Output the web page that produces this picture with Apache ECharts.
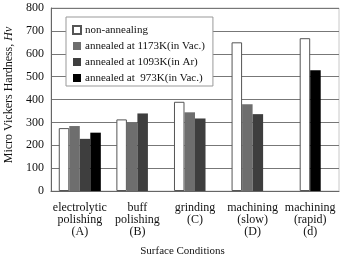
<!DOCTYPE html>
<html>
<head>
<meta charset="utf-8">
<script src="https://cdn.jsdelivr.net/npm/echarts@6/dist/echarts.min.js"></script>
<style>
  html, body { margin: 0; padding: 0; background: #fff; }
  #chart { width: 345px; height: 256px; }
</style>
</head>
<body>
<div id="chart"></div>
<script>
// surface conditions
const categories = [
  'electrolytic\npolishing\n(A)',
  'buff\npolishing\n(B)',
  'grinding\n(C)',
  'machining\n(slow)\n(D)',
  'machining\n(rapid)\n(d)'
]
// hardness Hv
const nonAnnealing = [275, 313, 390, 650, 668]
const annealed1173 = [284, 300, 344, 379, null]
const annealed1093 = [228, 339, 317, 336, null]
const annealed973 = [255, null, null, null, 528]
const yTicks = [0, 100, 200, 300, 400, 500, 600, 700, 800]

const names = [
  'non-annealing',
  'annealed at 1173K(in Vac.)',
  'annealed at 1093K(in Ar)',
  'annealed at  973K(in Vac.)'
]
const serif = 'Liberation Serif'
const last = categories.length - 1
// the last group only has two bars, drawn side by side in the middle slots
const head = arr => arr.map((v, i) => (i === last ? null : v))
const tail = arr => arr.map((v, i) => (i === last ? v : null))

const styles = [
  { color: '#fff', borderColor: '#555', borderWidth: 1 },
  { color: '#6e6e6e' },
  { color: '#3e3e3e' },
  { color: '#000' }
]

function bar(name, stack, data, style) {
  return {
    name: name,
    type: 'bar',
    stack: stack,
    data: data,
    barGap: '0%',
    barCategoryGap: '27%',
    itemStyle: style,
    emphasis: { disabled: true }
  }
}

const chart = echarts.init(document.getElementById('chart'))
chart.setOption({
  animation: false,
  textStyle: { fontFamily: serif },
  grid: {
    left: 51, right: 6, top: 8, bottom: 65,
    containLabel: false,
    outerBoundsMode: 'none',
    show: true, borderColor: '#c8c8c8', borderWidth: 1
  },
  legend: {
    data: names.map(n => ({ name: n, icon: 'rect' })),
    orient: 'vertical',
    left: 66,
    top: 17,
    itemWidth: 8,
    itemHeight: 8,
    itemGap: 4,
    padding: [7, 8, 2, 6],
    backgroundColor: '#fff',
    borderColor: '#999',
    borderWidth: 1,
    borderRadius: 0,
    selectedMode: false,
    textStyle: { fontFamily: serif, fontSize: 11, color: '#111', lineHeight: 12, padding: [0, 0, 0, -1] }
  },
  xAxis: {
    type: 'category',
    data: categories,
    name: 'Surface Conditions',
    nameLocation: 'middle',
    nameGap: 55,
    nameTextStyle: { fontFamily: serif, fontSize: 11, color: '#111', padding: [0, 25, 0, 0] },
    axisLine: { lineStyle: { color: '#666' } },
    axisTick: { show: false },
    axisLabel: { fontFamily: serif, fontSize: 12, color: '#111', lineHeight: 12, margin: 11, interval: 0 }
  },
  yAxis: {
    type: 'value',
    min: yTicks[0],
    max: yTicks[yTicks.length - 1],
    interval: 100,
    name: 'Micro Vickers Hardness, {i|Hv}',
    nameLocation: 'middle',
    nameGap: 32,
    nameTextStyle: {
      fontFamily: serif, fontSize: 12, color: '#111', padding: [0, 0, 0, 9],
      rich: { i: { fontFamily: serif, fontSize: 12, fontStyle: 'italic', color: '#111' } }
    },
    axisLine: { show: true, lineStyle: { color: '#666' } },
    axisTick: { show: false },
    axisLabel: { fontFamily: serif, fontSize: 12, color: '#111', margin: 7 },
    splitLine: { lineStyle: { color: '#777', width: 1 } }
  },
  series: [
    bar(names[0], 's1', head(nonAnnealing), styles[0]),
    bar(names[1], 's2', head(annealed1173), styles[1]),
    bar(names[2], 's3', head(annealed1093), styles[2]),
    bar(names[3], 's4', head(annealed973), styles[3]),
    bar(names[0], 's2', tail(nonAnnealing), styles[0]),
    bar(names[3], 's3', tail(annealed973), styles[3])
  ]
})
</script>
</body>
</html>
